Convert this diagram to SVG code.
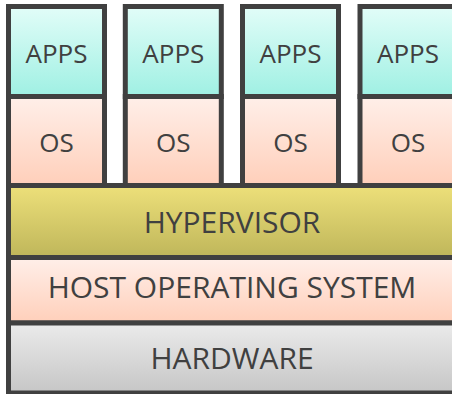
<svg xmlns="http://www.w3.org/2000/svg" width="452" height="394" viewBox="0 0 452 394">
  <defs>
    <linearGradient id="gApps" x1="0" y1="0" x2="0" y2="1">
      <stop offset="0" stop-color="#e2fdf8"/>
      <stop offset="1" stop-color="#9ff0e3"/>
    </linearGradient>
    <linearGradient id="gOs" x1="0" y1="0" x2="0" y2="1">
      <stop offset="0" stop-color="#ffefe9"/>
      <stop offset="1" stop-color="#ffcfba"/>
    </linearGradient>
    <linearGradient id="gHyp" x1="0" y1="0" x2="0" y2="1">
      <stop offset="0" stop-color="#ede07a"/>
      <stop offset="1" stop-color="#bfb65a"/>
    </linearGradient>
    <linearGradient id="gHw" x1="0" y1="0" x2="0" y2="1">
      <stop offset="0" stop-color="#ebebeb"/>
      <stop offset="1" stop-color="#c6c6c6"/>
    </linearGradient>
  </defs>
  <style>
    .box { stroke: #404040; stroke-width: 5; }
    .lbl { font-family: "Open Sans", "Liberation Sans", sans-serif; fill: #404040; text-anchor: middle; }
    .small { font-size: 26px; }
    .big { font-size: 30px; }
  </style>
  <rect width="452" height="394" fill="#ffffff"/>

  <g id="vm1">
    <rect class="box" x="8.5" y="6.5" width="96" height="90" fill="url(#gApps)"/>
    <rect class="box" x="8.5" y="96.5" width="96" height="89" fill="url(#gOs)"/>
    <text class="lbl small" x="56.5" y="62.5">APPS</text>
    <text class="lbl small" x="56.5" y="152">OS</text>
  </g>
  <g id="vm2">
    <rect class="box" x="125.3" y="6.5" width="96" height="90" fill="url(#gApps)"/>
    <rect class="box" x="125.3" y="96.5" width="96" height="89" fill="url(#gOs)"/>
    <text class="lbl small" x="173.3" y="62.5">APPS</text>
    <text class="lbl small" x="173.3" y="152">OS</text>
  </g>
  <g id="vm3">
    <rect class="box" x="242.5" y="6.5" width="96" height="90" fill="url(#gApps)"/>
    <rect class="box" x="242.5" y="96.5" width="96" height="89" fill="url(#gOs)"/>
    <text class="lbl small" x="290.5" y="62.5">APPS</text>
    <text class="lbl small" x="290.5" y="152">OS</text>
  </g>
  <g id="vm4">
    <rect class="box" x="360" y="6.5" width="96" height="90" fill="url(#gApps)"/>
    <rect class="box" x="360" y="96.5" width="96" height="89" fill="url(#gOs)"/>
    <text class="lbl small" x="408" y="62.5">APPS</text>
    <text class="lbl small" x="408" y="152">OS</text>
  </g>

  <g id="hypervisor">
    <rect class="box" x="8.5" y="185.5" width="447" height="72" fill="url(#gHyp)"/>
    <text class="lbl big" x="232" y="233">HYPERVISOR</text>
  </g>
  <g id="host-os">
    <rect class="box" x="8.5" y="257.5" width="447" height="65.5" fill="url(#gOs)"/>
    <text class="lbl big" x="232" y="298">HOST OPERATING SYSTEM</text>
  </g>
  <g id="hardware">
    <rect class="box" x="8.5" y="323" width="447" height="70" fill="url(#gHw)"/>
    <text class="lbl big" x="232" y="369">HARDWARE</text>
  </g>

  <g id="connectors"/>
</svg>
